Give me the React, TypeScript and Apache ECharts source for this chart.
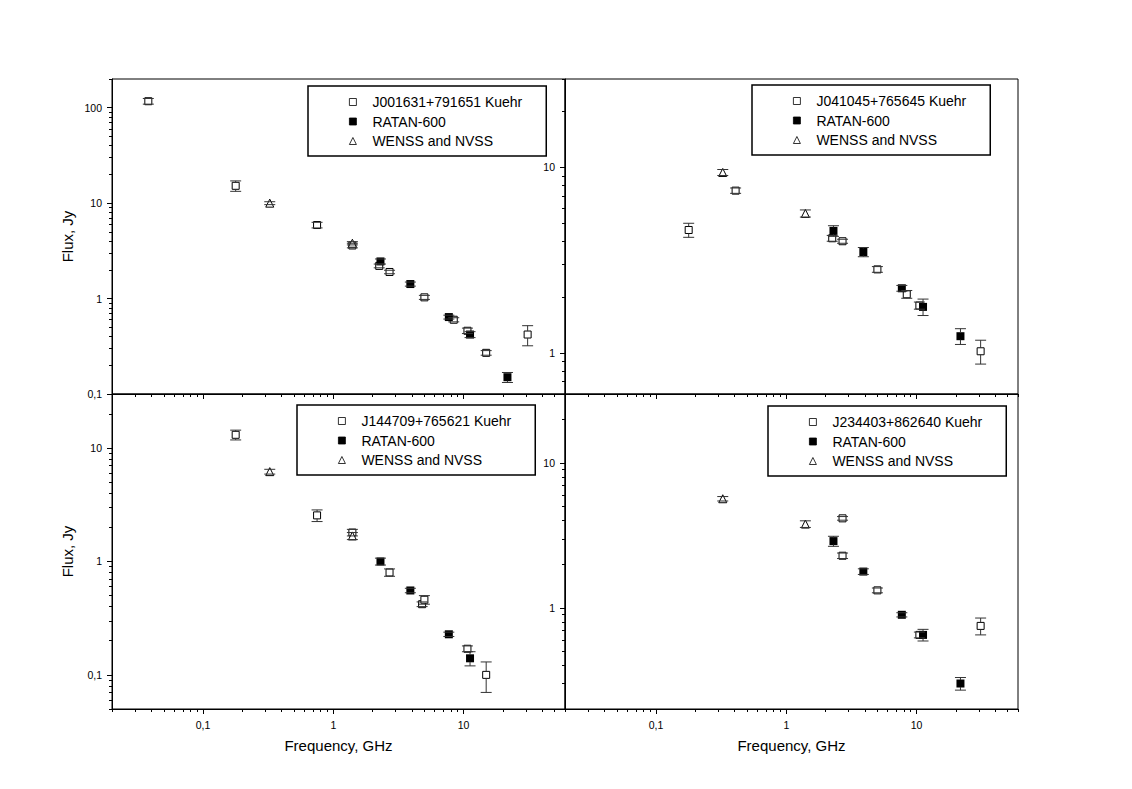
import React, { useEffect, useRef } from 'react';
import * as echarts from 'echarts';

// ---- names ----
const kuehrNames = [
  'J001631+791651 Kuehr',
  'J041045+765645 Kuehr',
  'J144709+765621 Kuehr',
  'J234403+862640 Kuehr',
];
const ratanName = 'RATAN-600';
const surveyName = 'WENSS and NVSS';
const xAxisName = 'Frequency, GHz';
const yAxisName = 'Flux, Jy';

// ---- panel A: J001631+791651 ----
const kuehrFreqA = [0.038, 0.178, 0.75, 1.4, 2.25, 2.7, 5.0, 8.4, 10.7, 14.9, 31];
const kuehrFluxA = [117, 15.2, 5.9, 3.6, 2.2, 1.9, 1.03, 0.6, 0.46, 0.27, 0.42];
const kuehrErrA = [8, 1.9, 0.4, 0.2, 0.1, 0.08, 0.05, 0.03, 0.03, 0.015, 0.1];
const ratanFreqA = [2.3, 3.9, 7.7, 11.2, 21.7];
const ratanFluxA = [2.45, 1.42, 0.64, 0.42, 0.15];
const ratanErrA = [0.15, 0.07, 0.03, 0.03, 0.018];
const surveyFreqA = [0.325, 1.4];
const surveyFluxA = [10.0, 3.8];
const surveyErrA = [0.35, 0.15];

// ---- panel B: J041045+765645 ----
const kuehrFreqB = [0.178, 0.408, 2.25, 2.7, 5.0, 8.4, 10.5, 31];
const kuehrFluxB = [4.6, 7.5, 4.15, 4.0, 2.82, 2.07, 1.8, 1.02];
const kuehrErrB = [0.4, 0.25, 0.15, 0.1, 0.1, 0.1, 0.08, 0.15];
const ratanFreqB = [2.3, 3.9, 7.7, 11.2, 21.7];
const ratanFluxB = [4.55, 3.5, 2.23, 1.77, 1.23];
const ratanErrB = [0.3, 0.2, 0.08, 0.18, 0.12];
const surveyFreqB = [0.325, 1.4];
const surveyFluxB = [9.4, 5.65];
const surveyErrB = [0.35, 0.25];

// ---- panel C: J144709+765621 ----
const kuehrFreqC = [0.178, 0.75, 1.4, 2.7, 4.8, 5.0, 10.7, 14.9];
const kuehrFluxC = [13.1, 2.55, 1.8, 0.8, 0.42, 0.46, 0.17, 0.1];
const kuehrErrC = [1.3, 0.3, 0.12, 0.06, 0.02, 0.04, 0.01, 0.03];
const ratanFreqC = [2.3, 3.9, 7.7, 11.2];
const ratanFluxC = [1.0, 0.555, 0.228, 0.14];
const ratanErrC = [0.07, 0.025, 0.01, 0.02];
const surveyFreqC = [0.325, 1.4];
const surveyFluxC = [6.2, 1.68];
const surveyErrC = [0.3, 0.12];

// ---- panel D: J234403+862640 ----
const kuehrFreqD = [2.7, 2.7, 5.0, 10.5, 31];
const kuehrFluxD = [4.15, 2.29, 1.32, 0.65, 0.75];
const kuehrErrD = [0.12, 0.1, 0.05, 0.03, 0.1];
const ratanFreqD = [2.3, 3.9, 7.7, 11.2, 21.7];
const ratanFluxD = [2.89, 1.78, 0.895, 0.65, 0.3];
const ratanErrD = [0.23, 0.08, 0.03, 0.06, 0.03];
const surveyFreqD = [0.325, 1.4];
const surveyFluxD = [5.67, 3.79];
const surveyErrD = [0.2, 0.2];

// ---- axes ----
const xMin = 0.02;
const xMax = 60;
const xMajorTicks = [0.1, 1, 10];
const yMinByPanel = [0.1, 0.6, 0.05, 0.2];
const yMaxByPanel = [200, 30, 30, 30];
const yMajorTicksByPanel = [
  [0.1, 1, 10, 100],
  [1, 10],
  [0.1, 1, 10],
  [1, 10],
];

const panels = [
  { kf: kuehrFreqA, kv: kuehrFluxA, ke: kuehrErrA, rf: ratanFreqA, rv: ratanFluxA, re: ratanErrA, sf: surveyFreqA, sv: surveyFluxA, se: surveyErrA },
  { kf: kuehrFreqB, kv: kuehrFluxB, ke: kuehrErrB, rf: ratanFreqB, rv: ratanFluxB, re: ratanErrB, sf: surveyFreqB, sv: surveyFluxB, se: surveyErrB },
  { kf: kuehrFreqC, kv: kuehrFluxC, ke: kuehrErrC, rf: ratanFreqC, rv: ratanFluxC, re: ratanErrC, sf: surveyFreqC, sv: surveyFluxC, se: surveyErrC },
  { kf: kuehrFreqD, kv: kuehrFluxD, ke: kuehrErrD, rf: ratanFreqD, rv: ratanFluxD, re: ratanErrD, sf: surveyFreqD, sv: surveyFluxD, se: surveyErrD },
];

// layout
const gridLefts = [112, 565, 112, 565];
const gridTops = [79, 79, 394, 394];
const gridW = 453;
const gridH = 315;
const legendPos = [
  { left: 308, top: 86 },
  { left: 752, top: 85 },
  { left: 297, top: 405 },
  { left: 768, top: 406 },
];

const FONT = "'Liberation Sans', Arial, Helvetica, sans-serif";

function minorTicks(min: number, max: number): number[] {
  const out: number[] = [];
  const k0 = Math.floor(Math.log10(min));
  const k1 = Math.ceil(Math.log10(max));
  for (let k = k0; k <= k1; k++) {
    for (let m = 2; m <= 9; m++) {
      const v = Number((m * Math.pow(10, k)).toPrecision(6));
      if (v >= min * 0.9999 && v <= max * 1.0001) out.push(v);
    }
  }
  return out;
}

const fmt = (v: number) => String(Number(v.toPrecision(6))).replace('.', ',');

function zip(f: number[], v: number[]) {
  return f.map((x, i) => [x, v[i]]);
}
function zipErr(f: number[], v: number[], e: number[]) {
  return f.map((x, i) => [x, v[i], v[i] - e[i], v[i] + e[i]]);
}

function buildOption() {
  const grid: any[] = [];
  const xAxis: any[] = [];
  const yAxis: any[] = [];
  const series: any[] = [];
  const legend: any[] = [];

  for (let p = 0; p < 4; p++) {
    grid.push({
      left: gridLefts[p],
      top: gridTops[p],
      width: gridW,
      height: gridH,
      show: true,
      borderColor: '#000',
      borderWidth: 1,
      backgroundColor: 'transparent',
    });
    const isBottom = p >= 2;
    const isLeft = p % 2 === 0;
    // major x
    xAxis.push({
      type: 'log',
      logBase: 10,
      gridIndex: p,
      position: 'bottom',
      min: xMin,
      max: xMax,
      name: isBottom ? xAxisName : '',
      nameLocation: 'middle',
      nameGap: 29,
      nameTextStyle: { fontSize: 15, color: '#000', fontFamily: FONT },
      axisLine: { show: true, lineStyle: { color: '#000', width: 1 } },
      axisTick: { show: true, inside: false, length: 5, customValues: xMajorTicks, lineStyle: { color: '#000', width: 1 } },
      axisLabel: { show: isBottom, customValues: xMajorTicks, formatter: fmt, margin: 10, fontSize: 10.5, color: '#000', fontFamily: FONT },
      splitLine: { show: false },
    });
    // minor x
    xAxis.push({
      type: 'log',
      logBase: 10,
      gridIndex: p,
      position: 'bottom',
      min: xMin,
      max: xMax,
      axisLine: { show: false },
      axisTick: { show: true, inside: false, length: 3, customValues: minorTicks(xMin, xMax), lineStyle: { color: '#000', width: 1 } },
      axisLabel: { show: false },
      splitLine: { show: false },
    });
    // major y
    yAxis.push({
      type: 'log',
      logBase: 10,
      gridIndex: p,
      position: 'left',
      min: yMinByPanel[p],
      max: yMaxByPanel[p],
      name: isLeft ? yAxisName : '',
      nameLocation: 'middle',
      nameGap: 37,
      nameTextStyle: { fontSize: 15, color: '#000', fontFamily: FONT },
      axisLine: { show: true, lineStyle: { color: '#000', width: 1 } },
      axisTick: { show: true, inside: false, length: 5, customValues: yMajorTicksByPanel[p], lineStyle: { color: '#000', width: 1 } },
      axisLabel: { show: true, customValues: yMajorTicksByPanel[p], formatter: fmt, margin: 10, fontSize: 10.5, color: '#000', fontFamily: FONT },
      splitLine: { show: false },
    });
    // minor y
    yAxis.push({
      type: 'log',
      logBase: 10,
      gridIndex: p,
      position: 'left',
      min: yMinByPanel[p],
      max: yMaxByPanel[p],
      axisLine: { show: false },
      axisTick: { show: true, inside: false, length: 3, customValues: minorTicks(yMinByPanel[p], yMaxByPanel[p]), lineStyle: { color: '#000', width: 1 } },
      axisLabel: { show: false },
      splitLine: { show: false },
    });

    const d = panels[p];
    const ax = p * 2;
    series.push({
      type: 'scatter',
      name: kuehrNames[p],
      xAxisIndex: ax,
      yAxisIndex: ax,
      symbol: 'rect',
      symbolSize: 7,
      itemStyle: { color: '#fff', borderColor: '#000', borderWidth: 1, opacity: 1 },
      data: zip(d.kf, d.kv),
      z: 3,
      silent: true,
    });
    series.push({
      type: 'scatter',
      name: ratanName,
      xAxisIndex: ax,
      yAxisIndex: ax,
      symbol: 'rect',
      symbolSize: 8,
      itemStyle: { color: '#000', borderColor: '#000', borderWidth: 0, opacity: 1 },
      data: zip(d.rf, d.rv),
      z: 3,
      silent: true,
    });
    series.push({
      type: 'scatter',
      name: surveyName,
      xAxisIndex: ax,
      yAxisIndex: ax,
      symbol: 'triangle',
      symbolSize: 8,
      itemStyle: { color: '#fff', borderColor: '#000', borderWidth: 1, opacity: 1 },
      data: zip(d.sf, d.sv),
      z: 3,
      silent: true,
    });
    series.push({
      type: 'custom',
      name: 'errorbars-' + p,
      xAxisIndex: ax,
      yAxisIndex: ax,
      z: 4,
      silent: true,
      encode: { x: 0, y: 1 },
      data: [
        ...zipErr(d.kf, d.kv, d.ke),
        ...zipErr(d.rf, d.rv, d.re),
        ...zipErr(d.sf, d.sv, d.se),
      ],
      renderItem: (params: any, api: any) => {
        const x = api.value(0);
        const y = api.value(1);
        const lo = api.value(2);
        const hi = api.value(3);
        const c = api.coord([x, y]);
        const pl = api.coord([x, lo]);
        const ph = api.coord([x, hi]);
        const h = 3.5;
        const w = 5.5;
        const style = { stroke: '#333', lineWidth: 1, fill: null };
        const children: any[] = [
          { type: 'line', shape: { x1: c[0] - w, y1: ph[1], x2: c[0] + w, y2: ph[1] }, style },
          { type: 'line', shape: { x1: c[0] - w, y1: pl[1], x2: c[0] + w, y2: pl[1] }, style },
        ];
        if (ph[1] < c[1] - h) {
          children.push({ type: 'line', shape: { x1: c[0], y1: ph[1], x2: c[0], y2: c[1] - h }, style });
        }
        if (pl[1] > c[1] + h) {
          children.push({ type: 'line', shape: { x1: c[0], y1: c[1] + h, x2: c[0], y2: pl[1] }, style });
        }
        return { type: 'group', children };
      },
    });

    legend.push({
      show: true,
      orient: 'vertical',
      left: legendPos[p].left,
      top: legendPos[p].top,
      data: [kuehrNames[p], ratanName, surveyName],
      selectedMode: false,
      itemWidth: 7,
      itemHeight: 7,
      itemGap: 5.5,
      padding: [9, 24, 8, 41],
      borderColor: '#000',
      borderWidth: 1.5,
      backgroundColor: '#fff',
      itemStyle: { borderWidth: 0.8 },
      textStyle: { fontSize: 14, color: '#000', fontFamily: FONT, padding: [0, 0, 0, 11] },
    });
  }

  return {
    animation: false,
    backgroundColor: '#fff',
    textStyle: { fontFamily: FONT },
    grid,
    xAxis,
    yAxis,
    legend,
    series,
  };
}

export default function App() {
  const ref = useRef<HTMLDivElement>(null);
  useEffect(() => {
    document.body.style.margin = '0';
    document.body.style.overflow = 'hidden';
    if (!ref.current) return;
    const chart = echarts.init(ref.current, undefined, { renderer: 'svg' });
    chart.setOption(buildOption() as any);
    return () => {
      chart.dispose();
    };
  }, []);
  return <div ref={ref} style={{ width: 1132, height: 789 }} />;
}
